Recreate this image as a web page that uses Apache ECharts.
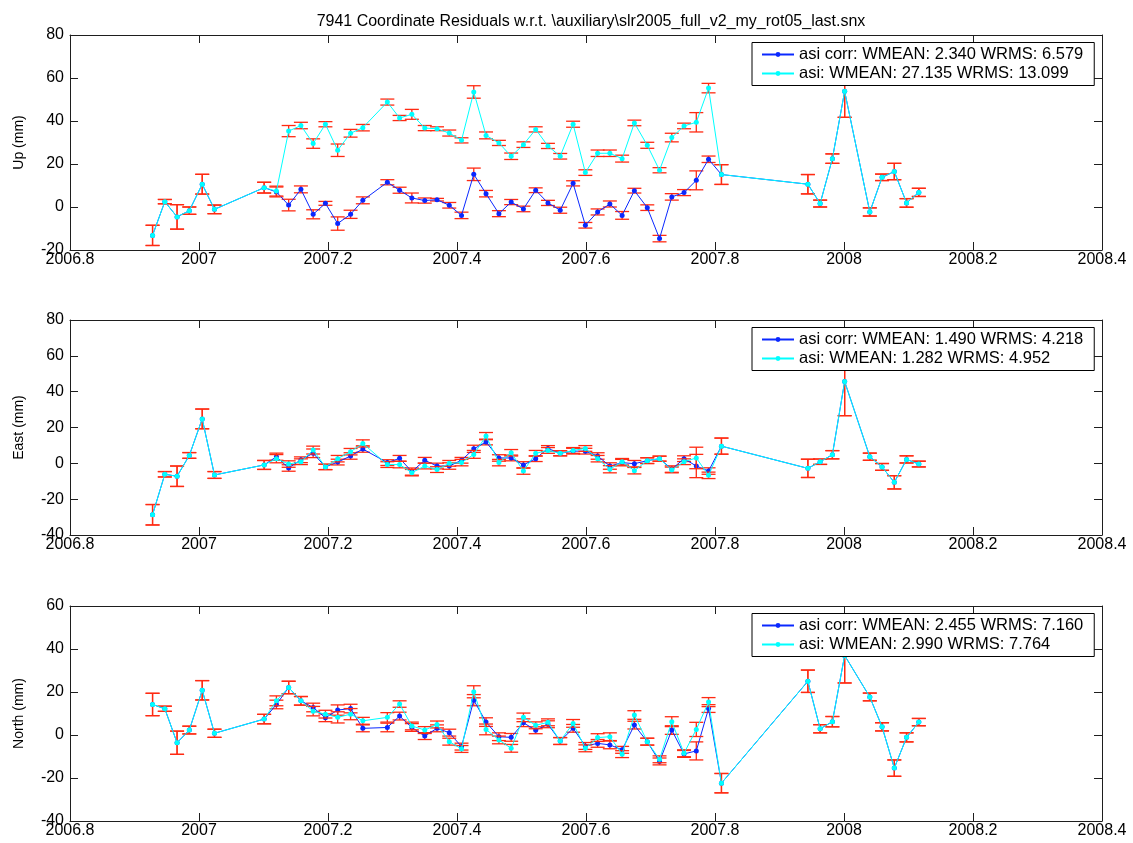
<!DOCTYPE html>
<html>
<head>
<meta charset="utf-8">
<title>7941 Coordinate Residuals</title>
<script src="https://cdn.jsdelivr.net/npm/echarts@6/dist/echarts.min.js"></script>
<style>
  html, body { margin: 0; padding: 0; background: #ffffff; }
  #chart { width: 1133px; height: 843px; }
</style>
</head>
<body>
<div id="chart"></div>
<script>
// Weekly solution epochs (decimal year)
const epochs = [
  2006.928, 2006.947, 2006.966, 2006.985, 2007.005, 2007.024,
  2007.101, 2007.120, 2007.139, 2007.158, 2007.177, 2007.196, 2007.215, 2007.235, 2007.254,
  2007.292, 2007.311, 2007.330, 2007.350, 2007.369,
  2007.388, 2007.407, 2007.426, 2007.445, 2007.465, 2007.484, 2007.503, 2007.522, 2007.541, 2007.560,
  2007.580, 2007.599, 2007.618, 2007.637, 2007.656, 2007.675, 2007.695, 2007.714, 2007.733, 2007.752,
  2007.771, 2007.790, 2007.810,
  2007.944, 2007.963, 2007.982, 2008.001,
  2008.040, 2008.059, 2008.078, 2008.097, 2008.116
];

// Up residuals (mm)
const upCorr = [
  -13.2, 2.5, -4.6, -1.7, 10.6, -1.1,
  9.0, 7.0, 0.9, 8.2, -3.4, 1.7, -7.7, -3.4, 3.1,
  11.5, 7.8, 4.2, 3.0, 3.4,
  0.8, -3.9, 15.2, 6.2, -3.1, 2.3, -0.9, 7.8, 1.9, -1.5,
  11.0, -8.5, -2.3, 1.4, -3.9, 7.6, -0.3, -14.7, 4.7, 6.7,
  12.4, 22.2, 15.1,
  10.6, 1.6, 22.5, 53.8,
  -2.3, 13.8, 16.5, 1.9, 6.8
];
const upCorrErr = [
  4.7, 1.0, 5.7, 1.7, 4.6, 2.0,
  2.5, 2.3, 2.7, 1.6, 2.1, 0.9, 3.1, 1.9, 1.6,
  1.2, 1.4, 2.3, 1.2, 0.6,
  1.3, 1.5, 2.9, 1.5, 1.4, 1.2, 1.3, 1.1, 1.2, 1.4,
  1.2, 1.3, 1.4, 1.4, 1.8, 1.1, 1.3, 1.5, 1.5, 1.4,
  4.4, 1.5, 4.6,
  4.5, 1.6, 2.2, 12.1,
  1.9, 1.5, 3.8, 2.0, 1.9
];
const upAsi = [
  -13.2, 2.5, -4.6, -1.7, 10.6, -1.1,
  9.0, 7.4, 35.3, 37.9, 29.5, 38.5, 26.4, 34.3, 36.9,
  48.8, 41.4, 43.1, 36.7, 36.4,
  34.4, 31.0, 53.5, 33.3, 29.8, 23.6, 29.0, 36.1, 28.4, 23.6,
  38.5, 16.0, 25.0, 25.0, 22.5, 39.1, 28.7, 17.1, 32.3, 37.7,
  39.4, 55.3, 15.1,
  10.6, 1.6, 22.5, 53.8,
  -2.3, 13.8, 16.5, 1.9, 6.8
];
const upAsiErr = [
  4.7, 1.0, 5.7, 1.7, 4.6, 2.0,
  2.5, 2.3, 2.6, 1.5, 2.2, 1.2, 2.9, 1.8, 1.5,
  1.4, 1.2, 2.3, 1.2, 0.9,
  1.4, 1.2, 2.9, 1.6, 1.2, 1.5, 1.3, 1.2, 1.2, 1.3,
  1.4, 1.3, 1.5, 1.5, 1.6, 1.3, 1.4, 1.2, 2.0, 1.3,
  4.5, 2.2, 4.6,
  4.5, 1.6, 2.2, 12.1,
  1.9, 1.5, 3.8, 2.0, 1.9
];

// East residuals (mm)
const eastCorr = [
  -28.7, -6.1, -7.2, 4.4, 24.8, -6.5,
  -0.9, 3.7, -2.6, 2.0, 5.6, -2.0, 0.7, 4.1, 8.0,
  0.4, 2.8, -4.6, 1.7, -1.5,
  -1.5, 1.7, 8.1, 11.9, 3.0, 3.0, -0.9, 2.6, 8.3, 5.6,
  6.8, 6.8, 4.1, -1.5, 0.4, -0.2, 1.5, 2.6, -3.2, 2.6,
  -1.5, -4.3, 9.6,
  -2.8, 0.9, 4.8, 45.7,
  3.7, -2.0, -10.6, 2.2, -0.4
];
const eastCorrErr = [
  5.7, 1.5, 5.7, 1.6, 5.5, 1.9,
  2.5, 2.0, 1.8, 1.6, 2.4, 1.5, 1.6, 1.8, 1.8,
  1.6, 1.6, 2.0, 1.6, 1.6,
  1.8, 1.6, 2.0, 1.6, 1.8, 1.6, 1.8, 1.6, 1.6, 1.4,
  1.6, 1.6, 1.8, 1.8, 1.8, 1.8, 1.6, 1.4, 1.8, 1.6,
  6.5, 1.8, 4.5,
  5.1, 1.5, 2.3, 19.1,
  2.0, 1.9, 3.7, 2.0, 1.6
];
const eastAsi = [
  -28.7, -6.1, -7.2, 4.4, 24.8, -6.5,
  -0.9, 2.6, -0.4, 0.9, 7.4, -2.0, 2.6, 6.5, 11.1,
  -0.7, -0.7, -5.2, -1.5, -3.5,
  0.0, 0.4, 5.0, 15.2, 0.4, 5.9, -4.3, 5.6, 7.2, 5.6,
  7.2, 8.3, 2.6, -3.3, 0.9, -4.1, 1.5, 2.6, -3.7, 0.9,
  3.0, -6.7, 9.6,
  -2.8, 0.9, 4.8, 45.7,
  3.7, -2.0, -10.6, 2.2, -0.4
];
const eastAsiErr = [
  5.7, 1.5, 5.7, 1.6, 5.5, 1.9,
  2.5, 2.3, 1.8, 1.6, 2.2, 1.5, 1.8, 1.8, 2.0,
  1.6, 1.8, 1.8, 1.6, 1.6,
  1.6, 1.8, 2.2, 2.0, 1.8, 1.8, 1.8, 1.6, 1.6, 1.4,
  1.6, 1.6, 1.8, 2.0, 1.8, 1.8, 1.6, 1.4, 1.6, 1.6,
  6.0, 1.8, 4.5,
  5.1, 1.5, 2.3, 19.1,
  2.0, 1.9, 3.7, 2.0, 1.6
];

// North residuals (mm)
const northCorr = [
  14.2, 12.2, -3.6, 2.3, 20.8, 0.8,
  7.4, 14.2, 22.1, 15.9, 12.8, 8.0, 11.6, 12.3, 3.1,
  3.5, 8.8, 3.5, -0.5, 3.1,
  1.1, -5.4, 16.2, 6.0, -0.8, -1.1, 5.7, 2.2, 5.0, -2.8,
  3.1, -5.1, -3.9, -4.6, -6.9, 4.6, -3.1, -12.3, 2.3, -8.8,
  -7.4, 12.3, -22.4,
  25.0, 2.9, 6.2, 37.0,
  17.7, 3.8, -15.4, -1.1, 6.0
];
const northCorrErr = [
  5.2, 1.2, 5.4, 1.8, 4.5, 1.9,
  2.2, 2.0, 2.9, 2.0, 2.0, 1.8, 2.4, 2.0, 1.6,
  2.0, 1.8, 1.8, 1.6, 1.6,
  1.6, 1.6, 2.6, 2.0, 1.8, 1.8, 1.8, 1.6, 1.6, 1.6,
  1.8, 1.6, 1.8, 1.8, 1.6, 1.8, 1.6, 1.6, 2.0, 1.6,
  4.2, 1.8, 4.5,
  5.2, 1.9, 2.4, 12.8,
  1.8, 1.9, 3.8, 2.1, 1.7
];
const northAsi = [
  14.2, 12.2, -3.6, 2.3, 20.8, 0.8,
  7.4, 15.9, 22.1, 15.9, 11.1, 9.7, 8.2, 9.7, 6.6,
  8.2, 14.4, 4.2, 2.3, 4.9,
  -3.1, -6.5, 20.1, 2.6, -2.3, -6.2, 8.2, 4.5, 5.9, -2.8,
  5.4, -6.2, -1.2, -0.8, -8.9, 9.3, -3.1, -11.3, 6.2, -8.5,
  2.6, 15.3, -22.4,
  25.0, 2.9, 6.2, 37.0,
  17.7, 3.8, -15.4, -1.1, 6.0
];
const northAsiErr = [
  5.2, 1.2, 5.4, 1.8, 4.5, 1.9,
  2.2, 2.3, 2.9, 2.0, 2.2, 1.8, 2.6, 2.6, 1.6,
  2.2, 1.5, 1.8, 1.6, 1.6,
  1.6, 1.6, 2.8, 2.5, 1.8, 1.8, 2.0, 1.6, 1.6, 1.6,
  1.8, 1.6, 1.8, 1.8, 1.6, 2.0, 1.6, 1.6, 2.3, 1.6,
  3.3, 2.1, 4.5,
  5.2, 1.9, 2.4, 12.8,
  1.8, 1.9, 3.8, 2.1, 1.7
];

// Legend labels (with weighted statistics)
const upLabels = ['asi corr: WMEAN: 2.340 WRMS: 6.579', 'asi: WMEAN: 27.135 WRMS: 13.099'];
const eastLabels = ['asi corr: WMEAN: 1.490 WRMS: 4.218', 'asi: WMEAN: 1.282 WRMS: 4.952'];
const northLabels = ['asi corr: WMEAN: 2.455 WRMS: 7.160', 'asi: WMEAN: 2.990 WRMS: 7.764'];

// Axis ranges
const xRange = { min: 2006.8, max: 2008.4, step: 0.2 };
const upRange = { min: -20, max: 80, step: 20 };
const eastRange = { min: -40, max: 80, step: 20 };
const northRange = { min: -40, max: 60, step: 20 };

const titleText = '7941 Coordinate Residuals w.r.t. \\auxiliary\\slr2005_full_v2_my_rot05_last.snx';

// ---- styling ----
const BLUE = '#0a28ff';
const CYAN = '#00ffff';
const ERR = '#ff2a12';
const AXIS = '#1e1e1e';
const FONT = "'Liberation Sans', Arial, Helvetica, sans-serif";
const NARROW = "'Liberation Sans Narrow', 'Liberation Sans', Arial, sans-serif";

const panels = [
  { name: 'Up (mm)', range: upRange, top: 35, corr: upCorr, corrErr: upCorrErr, asi: upAsi, asiErr: upAsiErr, labels: upLabels },
  { name: 'East (mm)', range: eastRange, top: 320, corr: eastCorr, corrErr: eastCorrErr, asi: eastAsi, asiErr: eastAsiErr, labels: eastLabels },
  { name: 'North (mm)', range: northRange, top: 606, corr: northCorr, corrErr: northCorrErr, asi: northAsi, asiErr: northAsiErr, labels: northLabels }
];
const GRID_LEFT = 70, GRID_RIGHT = 31, GRID_H = 215;

function errorBarItem(params, api) {
  const x = api.value(0), y = api.value(1), e = api.value(2);
  const lo = api.coord([x, y - e]);
  const hi = api.coord([x, y + e]);
  const half = 7;
  const style = { stroke: ERR, lineWidth: 1.3, fill: null };
  return {
    type: 'group',
    children: [
      { type: 'line', shape: { x1: lo[0], y1: lo[1], x2: hi[0], y2: hi[1] }, style },
      { type: 'line', shape: { x1: lo[0] - half, y1: lo[1], x2: lo[0] + half, y2: lo[1] }, style },
      { type: 'line', shape: { x1: hi[0] - half, y1: hi[1], x2: hi[0] + half, y2: hi[1] }, style }
    ]
  };
}

const fmtYear = v => String(Number(v.toFixed(1)));

const grid = [], xAxis = [], yAxis = [], series = [], legend = [];

panels.forEach((p, i) => {
  grid.push({ left: GRID_LEFT, right: GRID_RIGHT, top: p.top, height: GRID_H, containLabel: false });

  const xBase = {
    type: 'value', gridIndex: i, min: xRange.min, max: xRange.max, interval: xRange.step,
    axisLine: { show: true, onZero: false, lineStyle: { color: AXIS, width: 1 } },
    axisTick: { show: true, inside: true, length: 8, lineStyle: { color: AXIS, width: 1 } },
    splitLine: { show: false }
  };
  xAxis.push(Object.assign({}, xBase, {
    position: 'bottom',
    axisLabel: { show: true, formatter: fmtYear, color: '#000', fontFamily: FONT, fontSize: 16, margin: 2 }
  }));
  xAxis.push(Object.assign({}, xBase, { position: 'top', axisLabel: { show: false } }));

  const yBase = {
    type: 'value', gridIndex: i, min: p.range.min, max: p.range.max, interval: p.range.step,
    axisLine: { show: true, onZero: false, lineStyle: { color: AXIS, width: 1 } },
    axisTick: { show: true, inside: true, length: 8, lineStyle: { color: AXIS, width: 1 } },
    splitLine: { show: false }
  };
  yAxis.push(Object.assign({}, yBase, {
    position: 'left',
    name: p.name, nameLocation: 'middle', nameGap: 44, nameRotate: 90,
    nameTextStyle: { color: '#000', fontFamily: NARROW, fontSize: 14 },
    axisLabel: { show: true, color: '#000', fontFamily: FONT, fontSize: 16, margin: 6 }
  }));
  yAxis.push(Object.assign({}, yBase, { position: 'right', axisLabel: { show: false } }));

  const ax = { xAxisIndex: 2 * i, yAxisIndex: 2 * i };
  const corrErrData = epochs.map((t, k) => [t, p.corr[k], p.corrErr[k]]);
  const asiErrData = epochs.map((t, k) => [t, p.asi[k], p.asiErr[k]]);

  series.push(Object.assign({
    type: 'custom', name: p.labels[0] + ' err', renderItem: errorBarItem,
    encode: { x: 0, y: 1 }, data: corrErrData, silent: true, z: 1
  }, ax));
  series.push(Object.assign({
    type: 'line', name: p.labels[0], data: epochs.map((t, k) => [t, p.corr[k]]),
    symbol: 'circle', symbolSize: 5, showSymbol: true,
    lineStyle: { color: BLUE, width: 1 }, itemStyle: { color: BLUE },
    silent: true, z: 2
  }, ax));
  series.push(Object.assign({
    type: 'custom', name: p.labels[1] + ' err', renderItem: errorBarItem,
    encode: { x: 0, y: 1 }, data: asiErrData, silent: true, z: 3
  }, ax));
  series.push(Object.assign({
    type: 'line', name: p.labels[1], data: epochs.map((t, k) => [t, p.asi[k]]),
    symbol: 'circle', symbolSize: 5, showSymbol: true,
    lineStyle: { color: CYAN, width: 1 }, itemStyle: { color: CYAN },
    silent: true, z: 4
  }, ax));

  legend.push({
    orient: 'vertical', left: 752, top: p.top + 7.5,
    data: p.labels,
    selectedMode: false,
    backgroundColor: '#ffffff', borderColor: '#000000', borderWidth: 1, borderRadius: 0,
    padding: [3, 11, 3, 9],
    itemWidth: 32, itemHeight: 6, itemGap: 1,
    textStyle: { color: '#000', fontFamily: FONT, fontSize: 16.5, lineHeight: 18 },
    z: 10
  });
});

const chart = echarts.init(document.getElementById('chart'), null, { renderer: 'canvas' });
chart.setOption({
  backgroundColor: '#ffffff',
  animation: false,
  title: {
    text: titleText, left: 586, top: 9, textAlign: 'center',
    textStyle: { color: '#000', fontFamily: NARROW, fontSize: 16, fontWeight: 'normal' }
  },
  grid, xAxis, yAxis, series, legend
});
</script>
</body>
</html>
